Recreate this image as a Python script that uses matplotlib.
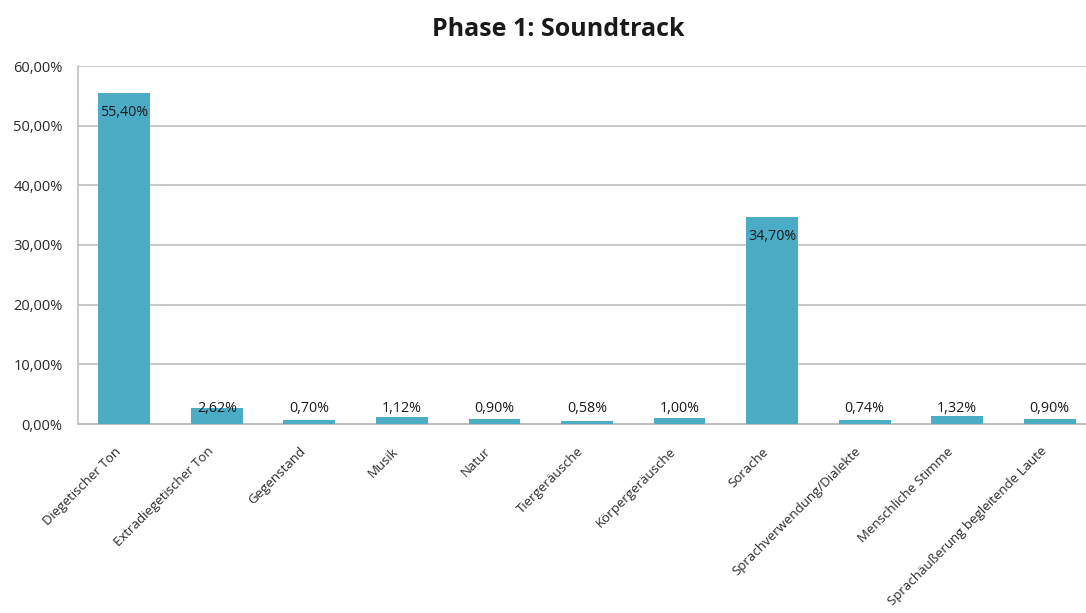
import matplotlib
matplotlib.use("Agg")
import matplotlib.pyplot as plt
from matplotlib.ticker import FuncFormatter
from matplotlib.transforms import ScaledTranslation

categories = ["Diegetischer Ton", "Extradiegetischer Ton", "Gegenstand", "Musik", "Natur",
              "Tiergeräusche", "Körpergeräusche", "Sorache", "Sprachverwendung/Dialekte",
              "Menschliche Stimme", "Sprachäußerung begleitende Laute"]
values = [55.40, 2.62, 0.70, 1.12, 0.90, 0.58, 1.00, 34.70, 0.74, 1.32, 0.90]
yticks = [0, 10, 20, 30, 40, 50, 60]

plt.rcParams['font.family'] = ['Open Sans', 'DejaVu Sans']

fig = plt.figure(figsize=(10.86, 6.13), dpi=100)
W, H = 1086, 613
left, right, top, bottom = 78, 1096, 66, 424
ax = fig.add_axes([left / W, 1 - bottom / H, (right - left) / W, (bottom - top) / H])

x = list(range(len(categories)))
ax.bar(x, values, width=0.56, color="#4BACC6", zorder=3)
ax.set_xlim(-0.5, len(categories) - 0.5)
ax.set_ylim(0, 60)
ax.set_yticks(yticks)
ax.yaxis.set_major_formatter(FuncFormatter(lambda v, p: f"{v:.2f}%".replace(".", ",")))
ax.grid(axis="y", color="#BFBFBF", linewidth=1.2, zorder=0)
for s in ["top", "right"]:
    ax.spines[s].set_visible(False)
ax.spines["left"].set_color("#BFBFBF")
ax.spines["bottom"].set_color("#BFBFBF")
ax.spines["left"].set_linewidth(1.2)
ax.spines["bottom"].set_linewidth(1.5)
ax.tick_params(axis="y", length=0, labelsize=10.5, labelcolor="#2a2a2a", pad=11)
ax.tick_params(axis="x", length=0, labelsize=9.5, labelcolor="#2a2a2a", pad=15)
ax.set_xticks(x)
ax.set_xticklabels(categories, rotation=45, ha="right", rotation_mode="anchor")
offset = ScaledTranslation(-10 / 100, 0, fig.dpi_scale_trans)
for lbl in ax.get_xticklabels():
    lbl.set_transform(lbl.get_transform() + offset)

for xi, v in zip(x, values):
    lab = f"{v:.2f}%".replace(".", ",")
    ypos = v - 3.2 if v > 20 else 2.6
    ax.text(xi, ypos, lab, ha="center", va="center", fontsize=10.3, color="#1a1a1a", zorder=4)

fig.text(558 / W, 1 - 30 / H, "Phase 1: Soundtrack", ha="center", va="center",
         fontsize=18, fontweight="bold", color="#1a1a1a")

fig.savefig("out.png", dpi=100)
